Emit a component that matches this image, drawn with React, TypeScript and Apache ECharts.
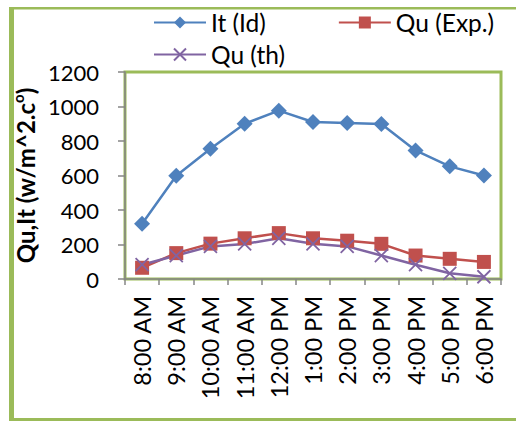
import React, { useEffect, useRef } from "react";
import * as echarts from "echarts";

const categories = ["8:00 AM", "9:00 AM", "10:00 AM", "11:00 AM", "12:00 PM", "1:00 PM", "2:00 PM", "3:00 PM", "4:00 PM", "5:00 PM", "6:00 PM"];
const itValues = [320, 598, 755, 900, 976, 910, 905, 898, 745, 653, 600];
const quExpValues = [65, 150, 205, 236, 266, 236, 222, 204, 136, 117, 99];
const quThValues = [83, 136, 189, 203, 236, 204, 189, 136, 83, 33, 13];
const yTicks = { min: 0, max: 1200, interval: 200 };

const FONT = "Lato";
const GREEN = "#9BBB59";
const AXIS = "#868686";

export default function App() {
  const ref = useRef<HTMLDivElement>(null);
  useEffect(() => {
    if (!ref.current) return;
    const chart = echarts.init(ref.current, null, { renderer: "svg" });
    chart.setOption({
      animation: false,
      backgroundColor: "#ffffff",
      textStyle: { fontFamily: FONT },
      graphic: [
        { type: "rect", shape: { x: 9, y: 7, width: 5, height: 414 }, style: { fill: GREEN } },
        { type: "rect", shape: { x: 9, y: 7, width: 507, height: 2.5 }, style: { fill: GREEN } },
        { type: "rect", shape: { x: 9, y: 418, width: 507, height: 3 }, style: { fill: GREEN } },
      ],
      legend: [
        {
          data: ["It (Id)", "Qu (Exp.)"],
          left: 148,
          top: 5,
          itemWidth: 52,
          itemHeight: 15,
          itemGap: 72,
          textStyle: { fontFamily: FONT, fontSize: 24.5, color: "#000" },
        },
        {
          data: ["Qu (th)"],
          left: 148,
          top: 37,
          itemWidth: 52,
          itemHeight: 15,
          textStyle: { fontFamily: FONT, fontSize: 24.5, color: "#000" },
        },
      ],
      grid: {
        left: 125,
        right: 15,
        top: 72,
        bottom: 142,
        show: true,
        borderColor: GREEN,
        borderWidth: 3,
        containLabel: false,
      },
      xAxis: {
        type: "category",
        data: categories,
        boundaryGap: true,
        axisLine: { lineStyle: { color: AXIS, width: 1.5 } },
        axisTick: { show: true, length: 6, lineStyle: { color: AXIS, width: 1.5 } },
        axisLabel: {
          rotate: 90,
          interval: 0,
          margin: 17,
          fontFamily: FONT,
          fontSize: 23.5,
          color: "#000",
        },
      },
      yAxis: {
        type: "value",
        min: yTicks.min,
        max: yTicks.max,
        interval: yTicks.interval,
        splitLine: { show: false },
        axisLine: { show: true, lineStyle: { color: AXIS, width: 1.5 } },
        axisTick: { show: true, length: 7, lineStyle: { color: AXIS, width: 1.5 } },
        axisLabel: {
          margin: 26,
          fontFamily: FONT,
          fontSize: 22,
          color: "#000",
          formatter: (v: number) => String(v),
        },
        name: "{a|Qu,It (w/m^2.c}{s|o}{a|)}",
        nameLocation: "middle",
        nameGap: 78,
        nameRotate: 90,
        nameTextStyle: {
          rich: {
            a: { fontFamily: FONT, fontSize: 24, fontWeight: "bold", color: "#000", lineHeight: 29 },
            s: { fontFamily: FONT, fontSize: 15, fontWeight: "bold", color: "#000", verticalAlign: "top", lineHeight: 29 },
          },
        },
      },
      series: [
        {
          name: "It (Id)",
          type: "line",
          data: itValues,
          symbol: "diamond",
          symbolSize: 16,
          itemStyle: { color: "#4F81BD" },
          lineStyle: { color: "#4F81BD", width: 2.5 },
        },
        {
          name: "Qu (Exp.)",
          type: "line",
          data: quExpValues,
          symbol: "rect",
          symbolSize: 14,
          itemStyle: { color: "#C0504D" },
          lineStyle: { color: "#C0504D", width: 2.5 },
        },
        {
          name: "Qu (th)",
          type: "line",
          data: quThValues,
          symbol: "path://M0,0 L10,10 M10,0 L0,10",
          symbolSize: 13,
          itemStyle: { color: "#8064A2", borderColor: "#8064A2", borderWidth: 1.8 },
          lineStyle: { color: "#8064A2", width: 2.5 },
        },
      ],
    });
    return () => chart.dispose();
  }, []);
  return (
    <div
      ref={ref}
      style={{ position: "fixed", left: 0, top: 0, width: 516, height: 421 }}
    />
  );
}
